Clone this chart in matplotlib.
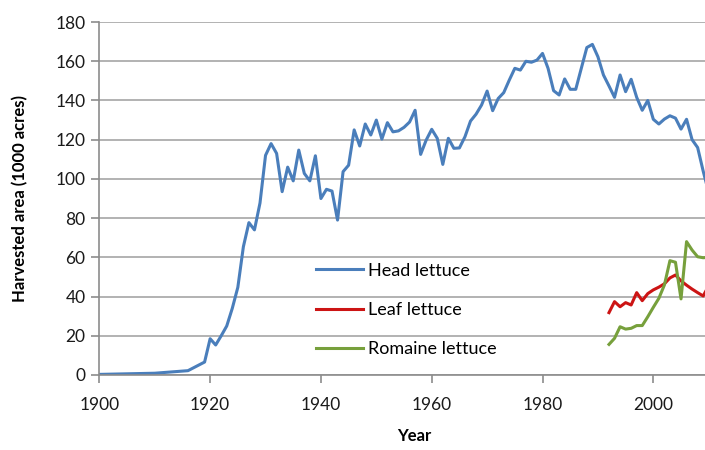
import matplotlib
matplotlib.use("Agg")
import matplotlib.pyplot as plt

plt.rcParams["font.family"] = ["Lato", "DejaVu Sans"]

# head lettuce, harvested area (1000 acres)
head_years = [1900, 1910, 1916, 1919, 1920, 1921, 1922, 1923, 1924, 1925, 1926,
              1927, 1928, 1929] + list(range(1930, 2011))
head_area = [0.3, 0.9, 2.2, 6.6, 18.5, 15.3, 20, 25, 34, 44.7, 65.4,
             77.7, 74, 87.7,
             112, 118, 113, 93.5, 106, 99, 114.7, 102.8, 99, 111.8,
             90, 94.7, 93.8, 79, 103.7, 107, 125, 116.8, 128, 122.4,
             130, 120.3, 128.7, 124, 124.5, 126.3, 129, 135, 112.5, 119.8,
             125.3, 120.7, 107.4, 120.7, 115.6, 115.8, 121.5, 129.5, 133, 137.7,
             144.8, 134.8, 141, 144, 150.4, 156.4, 155.5, 160, 159.5, 160.6,
             164, 156.4, 145, 142.8, 151, 145.7, 145.7, 156.4, 167, 168.6,
             162.3, 153, 147.4, 141.6, 153, 144.5, 150.8, 141.6, 135, 140,
             130.4, 128, 130.5, 132.2, 131, 125.4, 130.4, 120, 116, 104,
             93]

recent_years = list(range(1992, 2011))
leaf_area = [31.8, 37.4, 34.8, 36.9, 35.7, 42, 37.9, 41.5, 43.4, 44.8,
             46.5, 49.5, 51, 48, 45.8, 43.8, 42, 40.3, 45.5]
romaine_area = [15.6, 18.7, 24.6, 23.4, 23.8, 25.2, 25.2, 29.7, 34.5, 39.1,
                45.9, 58.3, 57.5, 38.8, 68, 63.7, 60.3, 59.8, 60]

fig = plt.figure(figsize=(7.05, 4.5), dpi=100)
ax = fig.add_axes([0.1409, 0.1667, 0.8591, 0.7843])

ax.plot(head_years, head_area, color="#4A7EBB", lw=2.2, label="Head lettuce")
ax.plot(recent_years, leaf_area, color="#CC1414", lw=2.2, label="Leaf lettuce")
ax.plot(recent_years, romaine_area, color="#77A03C", lw=2.2, label="Romaine lettuce")

ax.set_xlim(1900, 2009.33)
ax.set_ylim(0, 180)
ax.set_xticks(range(1900, 2001, 20))
ax.set_yticks(range(0, 181, 20))
ax.grid(axis="y", color="#A6A6A6", lw=1.2)
ax.set_axisbelow(True)

for s in ["top", "right"]:
    ax.spines[s].set_visible(False)
for s in ["left", "bottom"]:
    ax.spines[s].set_color("#8C8C8C")
    ax.spines[s].set_linewidth(1.2)
ax.tick_params(axis="both", direction="out", length=6, color="#8C8C8C",
               width=1.2, labelsize=12.5, labelcolor="#1A1A1A")
ax.tick_params(axis="x", pad=10)
ax.tick_params(axis="y", pad=4)

ax.set_ylabel("Harvested area (1000 acres)", fontsize=12, fontweight="bold")
ax.set_xlabel("Year", fontsize=12, fontweight="bold")
ax.yaxis.set_label_coords(-0.118, 0.5)
ax.xaxis.set_label_coords(0.52, -0.15)

ax.legend(loc="upper left", bbox_to_anchor=(0.448, 0.416),
          bbox_transform=fig.transFigure, frameon=False, fontsize=13,
          handlelength=2.6, handletextpad=0.3, labelspacing=1.28,
          borderpad=0, borderaxespad=0)

fig.savefig("out.png", dpi=100)
